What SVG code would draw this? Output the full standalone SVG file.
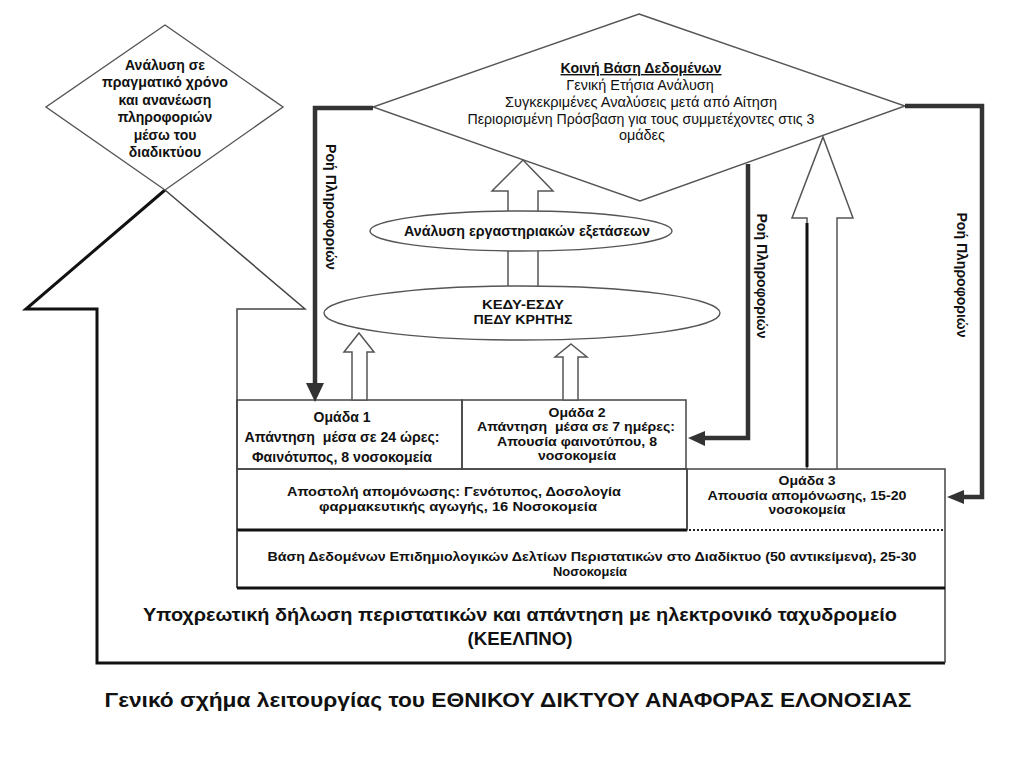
<svg xmlns="http://www.w3.org/2000/svg" width="1024" height="768" viewBox="0 0 1024 768">
<style>
  text { font-family: "Liberation Sans", Arial, sans-serif; fill: #111; }
  .b { font-weight: bold; font-size: 14px; }
  .t { font-weight: bold; font-size: 12.5px; }
  .r { font-size: 14.4px; }
  .m { text-anchor: middle; }
  .thin { fill: none; stroke: #444; stroke-width: 1.5; }
  .shape { fill: #fff; stroke: #555; stroke-width: 1.4; }
  .thick { fill: none; stroke: #111; stroke-width: 3; }
  .flow { fill: none; stroke: #333; stroke-width: 4.5; stroke-linejoin: miter; }
  .head { fill: #333; stroke: none; }
  .hollow { fill: #fff; stroke: #555; stroke-width: 1.5; stroke-linejoin: miter; }
</style>
<rect width="1024" height="768" fill="#fff"/>

<g id="big-arrow">
  <path class="thick" d="M165,190 L26,309 H97 V663 H945"/>
  <path class="thin" d="M165,190 L305,309 H237 V588"/>
  <path class="thin" d="M945,663 V588"/>
</g>

<g id="box-omada1">
  <rect x="237" y="400" width="225" height="69" class="thin" fill="#fff"/>
  <text class="b m" x="342" y="421.5">Ομάδα 1</text>
  <text class="b m" x="342" y="441.5" textLength="195" lengthAdjust="spacingAndGlyphs" style="white-space:pre">Απάντηση  μέσα σε 24 ώρες:</text>
  <text class="b m" x="342" y="461.5" textLength="180" lengthAdjust="spacingAndGlyphs">Φαινότυπος, 8 νοσοκομεία</text>
</g>

<g id="box-omada2">
  <rect x="462" y="400" width="224" height="69" class="thin" fill="#fff"/>
  <text class="t m" x="577" y="416.5" textLength="57" lengthAdjust="spacingAndGlyphs">Ομάδα 2</text>
  <text class="t m" x="576" y="431" textLength="198" lengthAdjust="spacingAndGlyphs" style="white-space:pre">Απάντηση  μέσα σε 7 ημέρες:</text>
  <text class="t m" x="577" y="445.5" textLength="160" lengthAdjust="spacingAndGlyphs">Απουσία φαινοτύπου, 8</text>
  <text class="t m" x="577" y="460" textLength="78" lengthAdjust="spacingAndGlyphs">νοσοκομεία</text>
</g>

<g id="box-apostoli">
  <rect x="237" y="469" width="450" height="61" class="thin" fill="#fff"/>
  <line x1="237" y1="530" x2="687" y2="530" stroke="#111" stroke-width="3"/>
  <text class="t m" x="454" y="496" textLength="334" lengthAdjust="spacingAndGlyphs">Αποστολή απομόνωσης: Γενότυπος, Δοσολογία</text>
  <text class="t m" x="458" y="510.5" textLength="278" lengthAdjust="spacingAndGlyphs">φαρμακευτικής αγωγής, 16 Νοσοκομεία</text>
</g>

<g id="box-omada3">
  <path class="thin" d="M687,530 V469 H945 V530"/>
  <line x1="689" y1="530" x2="945" y2="530" stroke="#222" stroke-width="2" stroke-dasharray="2,2"/>
  <text class="t m" x="807" y="485" textLength="57" lengthAdjust="spacingAndGlyphs">Ομάδα 3</text>
  <text class="t m" x="807" y="499.5" textLength="199" lengthAdjust="spacingAndGlyphs">Απουσία απομόνωσης, 15-20</text>
  <text class="t m" x="807" y="514" textLength="77" lengthAdjust="spacingAndGlyphs">νοσοκομεία</text>
</g>

<g id="box-vasi">
  <path class="thin" d="M237,530 V588 M945,530 V588"/>
  <line x1="237" y1="588" x2="945" y2="588" stroke="#111" stroke-width="3"/>
  <text class="t m" x="592" y="561" textLength="649" lengthAdjust="spacingAndGlyphs">Βάση Δεδομένων Επιδημιολογικών Δελτίων Περιστατικών στο Διαδίκτυο (50 αντικείμενα), 25-30</text>
  <text class="t m" x="590" y="575.5" textLength="74" lengthAdjust="spacingAndGlyphs">Νοσοκομεία</text>
</g>

<g id="box-ypoxreotiki">
  <text class="m" x="520" y="621" font-weight="bold" font-size="18.5" textLength="754" lengthAdjust="spacingAndGlyphs">Υποχρεωτική δήλωση περιστατικών και απάντηση με ηλεκτρονικό ταχυδρομείο</text>
  <text class="m" x="520" y="645" font-weight="bold" font-size="18.5" textLength="105" lengthAdjust="spacingAndGlyphs">(ΚΕΕΛΠΝΟ)</text>
</g>

<g id="diamond-left">
  <polygon class="shape" points="165,25 283,107 165,190 46,107"/>
  <text class="b m" x="165" y="69.5" font-size="14.5">Ανάλυση σε</text>
  <text class="b m" x="165" y="87" textLength="126" lengthAdjust="spacingAndGlyphs">πραγματικό χρόνο</text>
  <text class="b m" x="165" y="104.5" font-size="14.5">και ανανέωση</text>
  <text class="b m" x="165" y="122" font-size="14.5">πληροφοριών</text>
  <text class="b m" x="165" y="139.5" font-size="14.5">μέσω του</text>
  <text class="b m" x="165" y="156.5" font-size="14.5">διαδικτύου</text>
</g>

<g id="arrow-lab-to-db">
  <polygon class="hollow" points="523,160 553,191 538,191 538,215 508,215 508,191 492,191"/>
</g>
<g id="arrow-kedy-to-lab">
  <rect x="508" y="248" width="30" height="42" class="hollow"/>
</g>

<g id="diamond-top">
  <polygon class="shape" points="639,14 905,106 640,201 373,107"/>
  <text class="b m" x="641" y="73" text-decoration="underline" textLength="161" lengthAdjust="spacingAndGlyphs">Κοινή Βάση Δεδομένων</text>
  <text class="r m" x="640" y="90">Γενική Ετήσια Ανάλυση</text>
  <text class="r m" x="641" y="107" textLength="272" lengthAdjust="spacingAndGlyphs">Συγκεκριμένες Αναλύσεις μετά από Αίτηση</text>
  <text class="r m" x="641" y="123.5" textLength="347" lengthAdjust="spacingAndGlyphs">Περιορισμένη Πρόσβαση για τους συμμετέχοντες στις 3</text>
  <text class="r m" x="642" y="140">ομάδες</text>
</g>

<g id="ellipse-lab">
  <ellipse cx="521" cy="231" rx="151" ry="20" class="shape"/>
  <text class="b m" x="527" y="235.5" textLength="246" lengthAdjust="spacingAndGlyphs">Ανάλυση εργαστηριακών εξετάσεων</text>
</g>

<g id="ellipse-kedy">
  <ellipse cx="522" cy="313" rx="198" ry="27" class="shape"/>
  <text class="t m" x="523" y="309" textLength="82" lengthAdjust="spacingAndGlyphs">ΚΕΔΥ-ΕΣΔΥ</text>
  <text class="t m" x="523" y="323.5" textLength="99" lengthAdjust="spacingAndGlyphs">ΠΕΔΥ ΚΡΗΤΗΣ</text>
</g>

<g id="connectors">
  <polygon class="hollow" points="359,333 374,352 367,352 367,400 352,400 352,352 344,352"/>
  <polygon class="hollow" points="571,344 587,357 578,357 578,400 563,400 563,357 555,357"/>
  <polygon class="hollow" points="823,137 853,218 837,218 837,469 807,469 807,218 792,218"/>
  <line x1="807" y1="223" x2="807" y2="467" stroke="#111" stroke-width="3"/>

  <path class="flow" d="M373,108 H315 V386"/>
  <polygon class="head" points="306,383 324,383 315,402"/>
  <path class="flow" d="M748,164 V438 H703"/>
  <polygon class="head" points="688,438 705,431 705,446"/>
  <path class="flow" d="M905,106 H982 V497 H962"/>
  <polygon class="head" points="947,497 964,490 964,504"/>

  <text class="b m" transform="translate(326,207) rotate(90)" textLength="126" lengthAdjust="spacingAndGlyphs">Ροή Πληροφοριών</text>
  <text class="b m" transform="translate(757,276) rotate(90)" textLength="125" lengthAdjust="spacingAndGlyphs">Ροή Πληροφοριών</text>
  <text class="b m" transform="translate(957,275) rotate(90)" textLength="125" lengthAdjust="spacingAndGlyphs">Ροή Πληροφοριών</text>
</g>

<text class="m" x="508" y="707" font-weight="bold" font-size="20" textLength="807" lengthAdjust="spacingAndGlyphs">Γενικό σχήμα λειτουργίας του ΕΘΝΙΚΟΥ ΔΙΚΤΥΟΥ ΑΝΑΦΟΡΑΣ ΕΛΟΝΟΣΙΑΣ</text>
</svg>
